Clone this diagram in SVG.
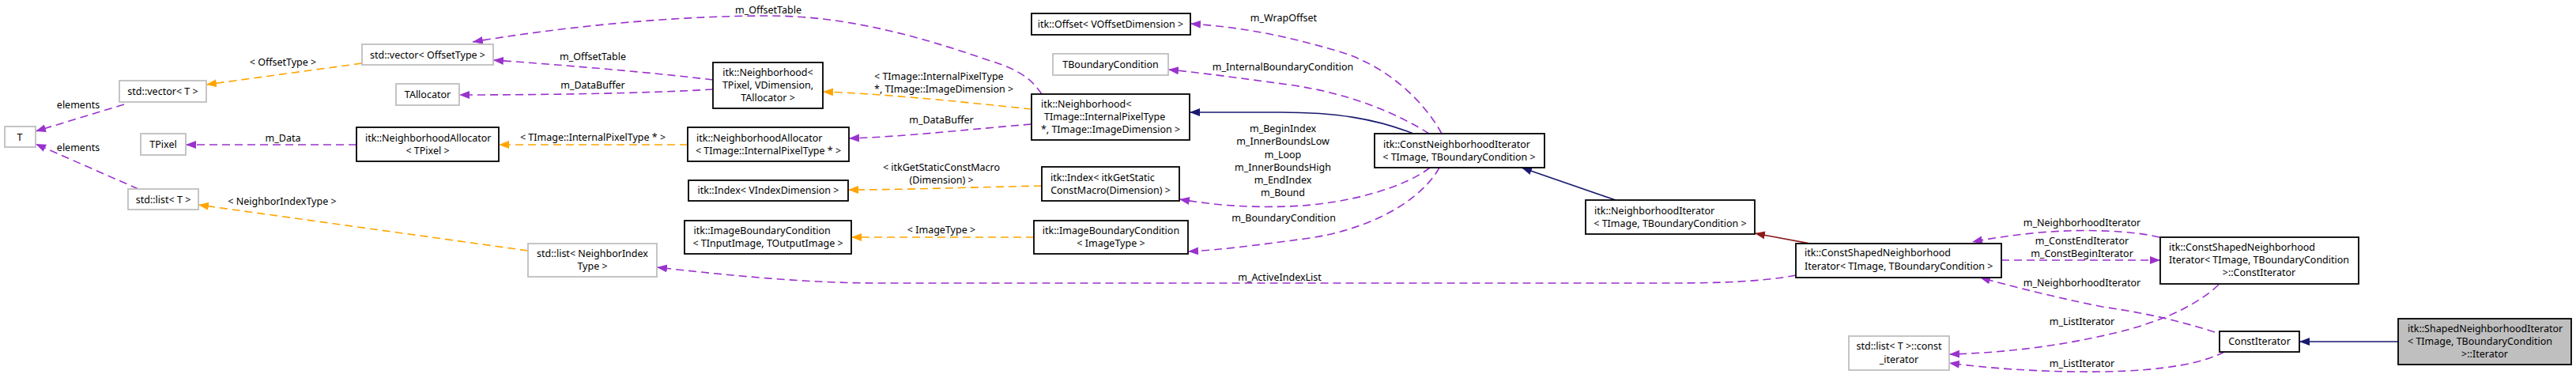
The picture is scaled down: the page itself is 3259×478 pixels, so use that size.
<svg xmlns="http://www.w3.org/2000/svg" width="3259" height="478" viewBox="0 0 3259 478">
<style>
.bg{fill:#fff}
.nd rect{fill:#fff;stroke:#000;stroke-width:1.8}
.nd.u rect{stroke:#bfbfbf}
.nd.sel rect{fill:#bfbfbf}
text{font-family:"Noto Sans","Open Sans","DejaVu Sans",sans-serif;font-size:12.5px;fill:#000}
.m{text-anchor:middle}
.e path{fill:none;stroke-width:1.6}
.p{stroke:#9a32cd;stroke-dasharray:10,6}
.o{stroke:#ffa500;stroke-dasharray:10,6}
.b{stroke:#191970}
.r{stroke:#8b1a1a}
</style>
<defs>
<marker id="ap" markerUnits="userSpaceOnUse" markerWidth="14" markerHeight="12" refX="13" refY="5" orient="auto"><path d="M0,0 L13,5 L0,10 z" fill="#9a32cd"/></marker>
<marker id="ao" markerUnits="userSpaceOnUse" markerWidth="14" markerHeight="12" refX="13" refY="5" orient="auto"><path d="M0,0 L13,5 L0,10 z" fill="#ffa500"/></marker>
<marker id="ab" markerUnits="userSpaceOnUse" markerWidth="14" markerHeight="12" refX="13" refY="5" orient="auto"><path d="M0,0 L13,5 L0,10 z" fill="#191970"/></marker>
<marker id="ar" markerUnits="userSpaceOnUse" markerWidth="14" markerHeight="12" refX="13" refY="5" orient="auto"><path d="M0,0 L13,5 L0,10 z" fill="#8b1a1a"/></marker>
</defs>
<rect class="bg" x="0" y="0" width="3259" height="478"/>
<g id="connectors" class="e">
<path class="o" marker-end="url(#ao)" d="M458,80 L261,107"/>
<path class="p" marker-end="url(#ap)" d="M157,132 L45,166"/>
<path class="p" marker-end="url(#ap)" d="M175,239 L45,182"/>
<path class="p" marker-end="url(#ap)" d="M451,183 L235,183"/>
<path class="p" marker-end="url(#ap)" d="M902,101 C830,92 710,82 624,76"/>
<path class="p" marker-end="url(#ap)" d="M902,113 C820,118 690,120 581,120"/>
<path class="o" marker-end="url(#ao)" d="M870,183 L631,183"/>
<path class="p" marker-end="url(#ap)" d="M1318,119 C1305,100 1290,88 1250,76 C1160,45 1070,20 972,20 C840,20 700,36 598,53"/>
<path class="o" marker-end="url(#ao)" d="M1305,138 C1210,128 1110,118 1041,116"/>
<path class="p" marker-end="url(#ap)" d="M1305,157 C1210,165 1140,173 1074,175"/>
<path class="o" marker-end="url(#ao)" d="M1318,235 C1220,237 1140,240 1073,240"/>
<path class="o" marker-end="url(#ao)" d="M1308,300 L1077,300"/>
<path class="b" marker-end="url(#ab)" d="M1788,169 C1740,150 1690,142 1620,142 L1505,142"/>
<path class="p" marker-end="url(#ap)" d="M1824,169 C1800,125 1750,80 1690,64 C1630,46 1570,34 1506,30"/>
<path class="p" marker-end="url(#ap)" d="M1808,169 C1770,145 1710,118 1630,107 C1570,99 1520,92 1478,88"/>
<path class="p" marker-end="url(#ap)" d="M1809,212 C1780,235 1710,258 1630,261 C1570,263 1530,258 1492,252"/>
<path class="p" marker-end="url(#ap)" d="M1821,212 C1800,250 1740,290 1650,302 C1590,310 1545,316 1503,318"/>
<path class="o" marker-end="url(#ao)" d="M668,317 L251,259"/>
<path class="p" marker-end="url(#ap)" d="M2272,348 C2230,356 2180,358 2110,358 L1110,358 C1020,358 920,348 831,338"/>
<path class="b" marker-end="url(#ab)" d="M2044,253 L1925,212"/>
<path class="r" marker-end="url(#ar)" d="M2290,308 L2220,295"/>
<path class="p" marker-end="url(#ap)" d="M2732,300 C2700,292 2640,289 2580,294 C2550,297 2520,301 2495,306"/>
<path class="p" marker-end="url(#ap)" d="M2532,329 L2733,329"/>
<path class="p" marker-end="url(#ap)" d="M2802,420 C2770,410 2730,398 2660,388 C2600,376 2545,362 2505,351"/>
<path class="p" marker-end="url(#ap)" d="M2807,360 C2780,385 2740,405 2680,420 C2610,437 2540,446 2466,448"/>
<path class="p" marker-end="url(#ap)" d="M2814,445 C2790,458 2740,469 2660,470 C2580,471 2510,465 2466,459"/>
<path class="b" marker-end="url(#ab)" d="M3034,432 L2909,432"/>
<g id="edge-labels">
<text class="m" x="358" y="83">&lt; OffsetType &gt;</text>
<text class="m" x="99" y="137">elements</text>
<text class="m" x="99" y="191">elements</text>
<text class="m" x="358" y="179">m_Data</text>
<text class="m" x="357" y="259">&lt; NeighborIndexType &gt;</text>
<text class="m" x="972" y="17">m_OffsetTable</text>
<text class="m" x="750" y="76">m_OffsetTable</text>
<text class="m" x="750" y="112">m_DataBuffer</text>
<text class="m" x="750" y="178">&lt; TImage::InternalPixelType * &gt;</text>
<text x="1106" y="101">&lt; TImage::InternalPixelType</text>
<text x="1106" y="117">*, TImage::ImageDimension &gt;</text>
<text class="m" x="1191" y="156">m_DataBuffer</text>
<text class="m" x="1191" y="216">&lt; itkGetStaticConstMacro</text>
<text class="m" x="1191" y="232">(Dimension) &gt;</text>
<text class="m" x="1191" y="295">&lt; ImageType &gt;</text>
<text class="m" x="1624" y="27">m_WrapOffset</text>
<text class="m" x="1623" y="89">m_InternalBoundaryCondition</text>
<text class="m" x="1623" y="167">m_BeginIndex</text>
<text class="m" x="1623" y="183">m_InnerBoundsLow</text>
<text class="m" x="1623" y="200">m_Loop</text>
<text class="m" x="1623" y="216">m_InnerBoundsHigh</text>
<text class="m" x="1623" y="232">m_EndIndex</text>
<text class="m" x="1623" y="248">m_Bound</text>
<text class="m" x="1624" y="280">m_BoundaryCondition</text>
<text class="m" x="1619" y="355">m_ActiveIndexList</text>
<text class="m" x="2634" y="286">m_NeighborhoodIterator</text>
<text class="m" x="2634" y="309">m_ConstEndIterator</text>
<text class="m" x="2634" y="325">m_ConstBeginIterator</text>
<text class="m" x="2634" y="362">m_NeighborhoodIterator</text>
<text class="m" x="2634" y="411">m_ListIterator</text>
<text class="m" x="2634" y="464">m_ListIterator</text>
</g>
</g>
<g id="n-T" class="nd u"><rect x="6" y="160" width="39" height="26"/><text class="m" x="25" y="178">T</text></g>
<g id="n-vecT" class="nd u"><rect x="151" y="102" width="110" height="27"/><text class="m" x="206" y="120">std::vector&lt; T &gt;</text></g>
<g id="n-TPixel" class="nd u"><rect x="178" y="169" width="57" height="27"/><text class="m" x="206.5" y="187">TPixel</text></g>
<g id="n-vecOffset" class="nd u"><rect x="458" y="56" width="166" height="26"/><text class="m" x="541" y="74">std::vector&lt; OffsetType &gt;</text></g>
<g id="n-TAllocator" class="nd u"><rect x="501" y="106" width="80" height="27"/><text class="m" x="541" y="124">TAllocator</text></g>
<g id="n-listT" class="nd u"><rect x="162" y="239" width="89" height="26"/><text class="m" x="206.5" y="257">std::list&lt; T &gt;</text></g>
<g id="n-NA-TPixel" class="nd"><rect x="451" y="161" width="180" height="43"/><text x="462" y="179">itk::NeighborhoodAllocator</text><text class="m" x="541" y="195">&lt; TPixel &gt;</text></g>
<g id="n-listNIT" class="nd u"><rect x="668" y="308" width="163" height="42"/><text class="m" x="749.5" y="325">std::list&lt; NeighborIndex</text><text class="m" x="749.5" y="341">Type &gt;</text></g>
<g id="n-N-TPixel" class="nd"><rect x="902" y="79" width="139" height="58"/><text class="m" x="971.5" y="96">itk::Neighborhood&lt;</text><text class="m" x="971.5" y="112">TPixel, VDimension,</text><text class="m" x="971.5" y="128">TAllocator &gt;</text></g>
<g id="n-NA-TImage" class="nd"><rect x="870" y="161" width="204" height="43"/><text x="881" y="179">itk::NeighborhoodAllocator</text><text class="m" x="972" y="195">&lt; TImage::InternalPixelType * &gt;</text></g>
<g id="n-IdxV" class="nd"><rect x="871" y="228" width="202" height="26"/><text class="m" x="972" y="245">itk::Index&lt; VIndexDimension &gt;</text></g>
<g id="n-IBC-TIn" class="nd"><rect x="866" y="279" width="211" height="42"/><text x="877.5" y="296">itk::ImageBoundaryCondition</text><text class="m" x="971.5" y="312">&lt; TInputImage, TOutputImage &gt;</text></g>
<g id="n-Offset" class="nd"><rect x="1305" y="17" width="201" height="27"/><text class="m" x="1405" y="35">itk::Offset&lt; VOffsetDimension &gt;</text></g>
<g id="n-TBoundary" class="nd u"><rect x="1332" y="68" width="146" height="27"/><text class="m" x="1405" y="86">TBoundaryCondition</text></g>
<g id="n-N-TImage" class="nd"><rect x="1305" y="119" width="200" height="58"/><text x="1317" y="136">itk::Neighborhood&lt;</text><text x="1321" y="152">TImage::InternalPixelType</text><text class="m" x="1405" y="168">*, TImage::ImageDimension &gt;</text></g>
<g id="n-IdxGet" class="nd"><rect x="1318" y="211" width="174" height="43"/><text x="1329" y="229">itk::Index&lt; itkGetStatic</text><text class="m" x="1405" y="245">ConstMacro(Dimension) &gt;</text></g>
<g id="n-IBC-Img" class="nd"><rect x="1308" y="279" width="195" height="42"/><text class="m" x="1405.5" y="296">itk::ImageBoundaryCondition</text><text class="m" x="1405.5" y="312">&lt; ImageType &gt;</text></g>
<g id="n-CNI" class="nd"><rect x="1739" y="169" width="215" height="43"/><text x="1750" y="187">itk::ConstNeighborhoodIterator</text><text class="m" x="1846" y="203">&lt; TImage, TBoundaryCondition &gt;</text></g>
<g id="n-NI" class="nd"><rect x="2006" y="253" width="214" height="43"/><text x="2017" y="271">itk::NeighborhoodIterator</text><text class="m" x="2113" y="287">&lt; TImage, TBoundaryCondition &gt;</text></g>
<g id="n-CSNI" class="nd"><rect x="2272" y="308" width="260" height="43"/><text x="2283" y="324">itk::ConstShapedNeighborhood</text><text x="2283" y="341">Iterator&lt; TImage, TBoundaryCondition &gt;</text></g>
<g id="n-CSNI-CI" class="nd"><rect x="2733" y="300" width="251" height="59"/><text x="2744" y="317">itk::ConstShapedNeighborhood</text><text x="2744" y="333">Iterator&lt; TImage, TBoundaryCondition</text><text class="m" x="2858" y="349">&gt;::ConstIterator</text></g>
<g id="n-CI" class="nd"><rect x="2808" y="419" width="101" height="26"/><text class="m" x="2858.5" y="436">ConstIterator</text></g>
<g id="n-constiter" class="nd u"><rect x="2339" y="425" width="127" height="43"/><text class="m" x="2402.5" y="442">std::list&lt; T &gt;::const</text><text class="m" x="2402.5" y="459">_iterator</text></g>
<g id="n-Shaped" class="nd sel"><rect x="3034" y="403" width="219" height="58"/><text x="3046" y="420">itk::ShapedNeighborhoodIterator</text><text x="3046" y="436">&lt; TImage, TBoundaryCondition</text><text class="m" x="3143.5" y="452">&gt;::Iterator</text></g>
</svg>
